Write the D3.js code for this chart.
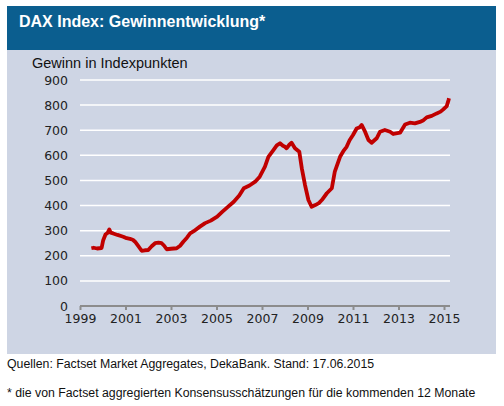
<!DOCTYPE html>
<html><head><meta charset="utf-8">
<script src="https://cdn.jsdelivr.net/npm/d3@7"></script>
<style>body{margin:0;background:#fff}svg{display:block}</style>
</head><body>
<script>
const title = "DAX Index: Gewinnentwicklung*";
const yAxisTitle = "Gewinn in Indexpunkten";
const source = "Quellen: Factset Market Aggregates, DekaBank. Stand: 17.06.2015";
const footnote = "* die von Factset aggregierten Konsensusschätzungen für die kommenden 12 Monate";
const yTicks = [0,100,200,300,400,500,600,700,800,900];
const xTicks = [1999,2001,2003,2005,2007,2009,2011,2013,2015];
const dates = [1999.50,1999.60,1999.75,1999.95,2000.02,2000.12,2000.22,2000.29,2000.35,2000.46,2000.65,2000.90,2001.05,2001.20,2001.32,2001.42,2001.55,2001.71,2001.85,2002.00,2002.15,2002.30,2002.45,2002.59,2002.70,2002.81,2003.00,2003.25,2003.40,2003.54,2003.70,2003.84,2004.00,2004.27,2004.50,2004.75,2005.03,2005.25,2005.50,2005.76,2006.00,2006.20,2006.45,2006.70,2006.90,2007.13,2007.28,2007.50,2007.65,2007.79,2007.92,2008.01,2008.08,2008.20,2008.30,2008.45,2008.64,2008.75,2008.89,2009.04,2009.18,2009.34,2009.50,2009.63,2009.85,2010.07,2010.20,2010.43,2010.60,2010.72,2010.85,2011.00,2011.16,2011.30,2011.38,2011.53,2011.68,2011.82,2012.04,2012.19,2012.40,2012.63,2012.77,2012.95,2013.07,2013.29,2013.50,2013.72,2013.94,2014.10,2014.24,2014.46,2014.68,2014.85,2014.97,2015.12,2015.20,2015.22];
const profits = [230,232,229,231,262,285,292,305,292,289,283,276,270,267,264,256,240,220,222,223,238,250,252,250,240,226,228,230,240,256,272,289,298,316,330,340,356,375,395,415,440,469,480,495,515,555,594,621,640,648,638,634,628,642,650,628,614,548,482,422,395,402,410,422,449,469,535,594,620,634,660,681,707,712,721,694,661,650,668,694,701,694,685,688,690,723,730,727,733,740,751,757,767,774,783,796,820,827];

const W = 504, H = 406;
const svg = d3.select("body").append("svg").attr("width", W).attr("height", H);
svg.append("rect").attr("x",7).attr("y",6).attr("width",489).attr("height",44).attr("fill","#0B5E8F");
svg.append("rect").attr("x",7).attr("y",50).attr("width",489).attr("height",304).attr("fill","#CED5E4");
svg.append("text").attr("x",19).attr("y",27).attr("fill","#fff").attr("font-family","Liberation Sans, Arial, sans-serif").attr("font-weight","bold").attr("font-size",16).text(title);
svg.append("text").attr("x",32).attr("y",68).attr("fill","#111").attr("font-family","Liberation Sans, Arial, sans-serif").attr("font-size",14.5).text(yAxisTitle);

const x = d3.scaleLinear().domain([1999,2015]).range([80,444]);
const y = d3.scaleLinear().domain([0,900]).range([306,80]);

const g = svg.append("g");
g.selectAll("line.grid").data(yTicks.filter(d=>d>0)).join("line")
  .attr("x1",80).attr("x2",450).attr("y1",d=>y(d)).attr("y2",d=>y(d))
  .attr("stroke","#fff").attr("stroke-width",1.5);

const yAxis = d3.axisLeft(y).tickValues(yTicks).tickSize(0).tickPadding(0);
const ya = svg.append("g").attr("transform","translate(68,0)").call(yAxis);
ya.select(".domain").remove();
ya.selectAll("text").attr("font-family","DejaVu Sans, sans-serif").attr("font-size",12.5).attr("fill","#222");

svg.append("line").attr("x1",80).attr("x2",450).attr("y1",y(0)).attr("y2",y(0)).attr("stroke","#8c8c8c").attr("stroke-width",2);
const xAxis = d3.axisBottom(x).tickValues(xTicks).tickFormat(d3.format("d")).tickSize(4).tickPadding(4);
const xa = svg.append("g").attr("transform",`translate(0,${y(0)})`).call(xAxis);
xa.select(".domain").remove();
xa.selectAll("line").attr("stroke","#8c8c8c").attr("stroke-width",2);
xa.selectAll("text").attr("font-family","DejaVu Sans, sans-serif").attr("font-size",12.5).attr("fill","#222");

const line = d3.line().x((d,i)=>x(dates[i])).y(d=>y(d));
svg.append("path").datum(profits).attr("d",line).attr("fill","none").attr("stroke","#C00000").attr("stroke-width",3.8).attr("stroke-linejoin","round");

svg.append("text").attr("x",7).attr("y",368).attr("fill","#111").attr("font-family","Liberation Sans, Arial, sans-serif").attr("font-size",12.3).text(source);
svg.append("text").attr("x",7).attr("y",397).attr("fill","#111").attr("font-family","Liberation Sans, Arial, sans-serif").attr("font-size",12.3).text(footnote);
</script>
</body></html>
